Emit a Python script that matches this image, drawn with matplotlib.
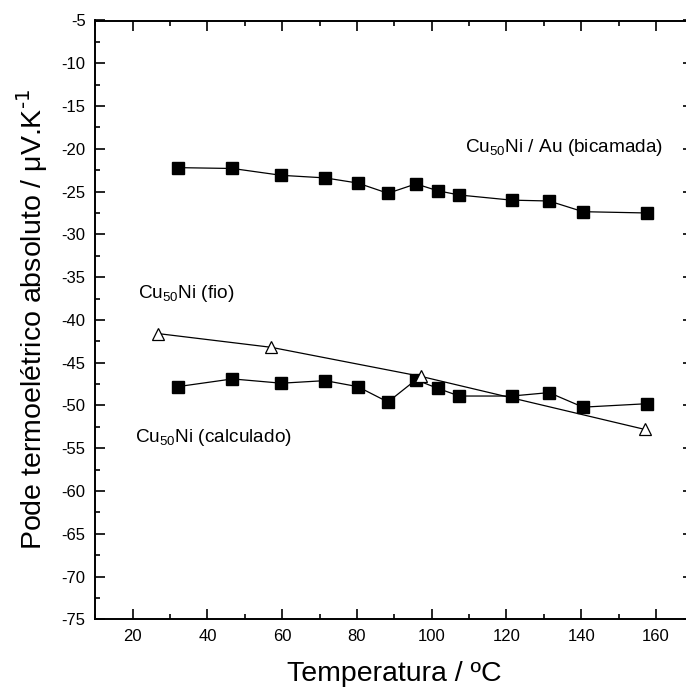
import matplotlib
matplotlib.use("Agg")
import matplotlib.pyplot as plt
from matplotlib.ticker import MultipleLocator

plt.rcParams['font.family'] = ['Liberation Sans', 'DejaVu Sans']
plt.rcParams['mathtext.default'] = 'regular'
plt.rcParams['axes.unicode_minus'] = False

# Data
temp = [32.1, 46.7, 59.8, 71.5, 80.2, 88.3, 95.8, 101.6, 107.4, 121.4, 131.4, 140.5, 157.5]
bicamada = [-22.2, -22.3, -23.1, -23.4, -24.0, -25.2, -24.1, -24.9, -25.4, -26.0, -26.1, -27.35, -27.5]
calculado = [-47.8, -46.9, -47.4, -47.1, -47.8, -49.6, -47.0, -48.0, -48.9, -48.9, -48.5, -50.2, -49.8]
temp_fio = [26.8, 57.0, 97.1, 157.0]
fio = [-41.6, -43.2, -46.6, -52.8]

xticks = [20, 40, 60, 80, 100, 120, 140, 160]
yticks = list(range(-75, 0, 5))

fig = plt.figure(figsize=(6.86, 6.92), dpi=100)
ax = fig.add_axes([95.3/686, (692-619.3)/692, 598/686, 598.8/692])

ax.plot(temp, bicamada, color='black', lw=0.9, marker='s', ms=8,
        mfc='black', mec='black')
ax.plot(temp, calculado, color='black', lw=0.9, marker='s', ms=8,
        mfc='black', mec='black')
ax.plot(temp_fio, fio, color='black', lw=0.9, marker='^', ms=9,
        mfc='white', mec='black', mew=0.9)

ax.set_xlim(10, 170)
ax.set_ylim(-75, -5)
ax.set_xticks(xticks)
ax.set_yticks(yticks)
ax.xaxis.set_minor_locator(MultipleLocator(10))
ax.yaxis.set_minor_locator(MultipleLocator(2.5))
ax.tick_params(which='both', direction='in', top=True, right=True,
               labelsize=12, width=1.2)
ax.tick_params(which='major', length=7.2, pad=7)
ax.tick_params(which='minor', length=3.6)
for s in ax.spines.values():
    s.set_linewidth(1.4)

ax.set_xlabel('Temperatura / ºC', fontsize=20.5, labelpad=12)
ax.set_ylabel('Pode termoelétrico absoluto / μV.K$^{\\text{-1}}$', fontsize=20.5, labelpad=8)

fs = 13.7
fig.text(465/686, 1 - 148/692, 'Cu$_{50}$Ni / Au (bicamada)', fontsize=fs, va='center', ha='left')
fig.text(138/686, 1 - 293/692, 'Cu$_{50}$Ni (fio)', fontsize=fs, va='center', ha='left')
fig.text(135/686, 1 - 437/692, 'Cu$_{50}$Ni (calculado)', fontsize=fs, va='center', ha='left')

fig.savefig('out.png', dpi=100)
